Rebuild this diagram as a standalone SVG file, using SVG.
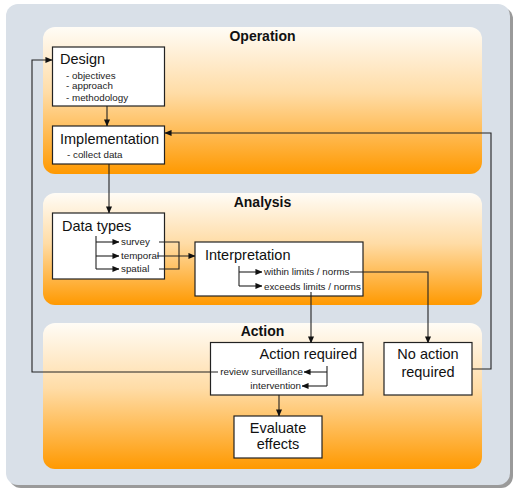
<svg xmlns="http://www.w3.org/2000/svg" width="514" height="489" viewBox="0 0 514 489">
<defs>
<linearGradient id="og" x1="0" y1="0" x2="0" y2="1">
<stop offset="0" stop-color="#fffcf6"/>
<stop offset="0.45" stop-color="#ffdca6"/>
<stop offset="1" stop-color="#ff9900"/>
</linearGradient>
<marker id="ah" viewBox="0 0 8 8" refX="7.5" refY="4" markerWidth="7" markerHeight="7" markerUnits="userSpaceOnUse" orient="auto">
<path d="M0,0.5 L8,4 L0,7.5 z" fill="#111"/>
</marker>
<style>
.panel{fill:url(#og)}
.box{fill:#fff;stroke:#222;stroke-width:1.2}
.t{font-family:"Liberation Sans",Arial,sans-serif;fill:#111}
.big{font-size:14.5px}
.sm{font-size:9.8px;fill:#222}
.hd{font-size:14px;font-weight:bold;text-anchor:middle}
.c{fill:none;stroke:#222;stroke-width:1.1}
.ca{fill:none;stroke:#222;stroke-width:1.1;marker-end:url(#ah)}
</style>
</defs>
<rect x="9" y="7" width="504" height="481" rx="12" fill="#9a9a9a"/>
<rect x="6" y="4" width="504" height="481" rx="12" fill="#d9e0e8"/>
<g id="operation"><rect class="panel" x="43" y="27" width="439" height="147" rx="12"/><text class="t hd" x="262.5" y="41">Operation</text></g>
<g id="analysis"><rect class="panel" x="43" y="193" width="439" height="112" rx="12"/><text class="t hd" x="262.5" y="207">Analysis</text></g>
<g id="action"><rect class="panel" x="43" y="323" width="439" height="146" rx="12"/><text class="t hd" x="262.5" y="336">Action</text></g>
<g id="design"><rect class="box" x="52.5" y="47" width="112" height="59"/>
<text class="t big" x="60" y="64">Design</text>
<text class="t sm" x="66" y="79">- objectives</text>
<text class="t sm" x="66" y="89">- approach</text>
<text class="t sm" x="66" y="101">- methodology</text></g>
<g id="implementation"><rect class="box" x="52.5" y="126" width="112" height="38"/>
<text class="t big" x="60" y="144">Implementation</text>
<text class="t sm" x="67" y="158">- collect data</text></g>
<g id="datatypes"><rect class="box" x="52.5" y="213" width="112" height="66"/>
<text class="t big" x="62" y="231">Data types</text>
<text class="t sm" x="121" y="245">survey</text>
<text class="t sm" x="121" y="259">temporal</text>
<text class="t sm" x="121" y="272">spatial</text></g>
<g id="interpretation"><rect class="box" x="195" y="242" width="168" height="54"/>
<text class="t big" x="205" y="260">Interpretation</text>
<text class="t sm" x="264" y="275">within limits / norms</text>
<text class="t sm" x="264" y="290">exceeds limits / norms</text></g>
<g id="actionrequired"><rect class="box" x="210.5" y="342.5" width="152.5" height="52.5"/>
<text class="t big" x="357" y="359" text-anchor="end">Action required</text>
<text class="t sm" x="303" y="375" text-anchor="end">review surveillance</text>
<text class="t sm" x="301" y="389" text-anchor="end">intervention</text></g>
<g id="noaction"><rect class="box" x="384" y="342.5" width="88" height="52.5"/>
<text class="t big" x="428" y="359" text-anchor="middle">No action</text>
<text class="t big" x="428" y="377" text-anchor="middle">required</text></g>
<g id="evaluate"><rect class="box" x="234" y="416" width="88" height="42"/>
<text class="t big" x="278" y="433" text-anchor="middle">Evaluate</text>
<text class="t big" x="278" y="449" text-anchor="middle">effects</text></g>
<g id="connectors">
<path class="ca" d="M107,106 V126"/>
<path class="ca" d="M109,164 V213"/>
<path class="ca" d="M218,372 H32 V60 H52"/>
<path class="ca" d="M472,369 H491 V133 H165"/>
<path class="c" d="M96,236 V269"/>
<path class="ca" d="M96,242 H119"/>
<path class="ca" d="M96,256 H119"/>
<path class="ca" d="M96,269 H119"/>
<path class="c" d="M159,242 H179 V269 H159"/>
<path class="ca" d="M157,256 H195"/>
<path class="c" d="M239,266 V286"/>
<path class="ca" d="M239,272 H262"/>
<path class="ca" d="M239,286 H262"/>
<path class="ca" d="M350,272 H428 V343"/>
<path class="ca" d="M311,292 V343"/>
<path class="c" d="M327,366 V386"/>
<path class="ca" d="M327,372 H304"/>
<path class="ca" d="M327,386 H302"/>
<path class="ca" d="M279,395 V416"/>
</g>
</svg>
